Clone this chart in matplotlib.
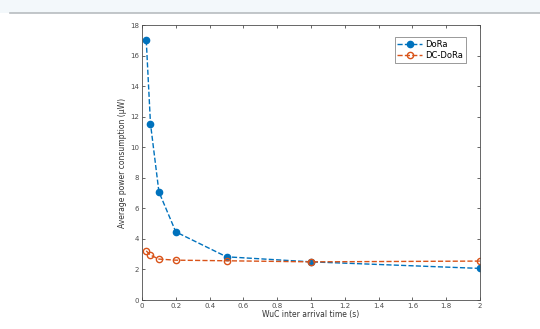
import numpy as np
import matplotlib.pyplot as plt
from matplotlib.lines import Line2D
from matplotlib.patches import Rectangle

# WuC inter arrival time (s)
wuc_time = [0.025, 0.05, 0.1, 0.2, 0.5, 1, 2]
# average power consumption (uW)
dora = [17.0, 11.55, 7.08, 4.46, 2.83, 2.5, 2.07]
dc_dora = [3.22, 2.94, 2.68, 2.61, 2.57, 2.5, 2.55]

xticks = [0, 0.2, 0.4, 0.6, 0.8, 1, 1.2, 1.4, 1.6, 1.8, 2]
xticklabels = ["0", "0.2", "0.4", "0.6", "0.8", "1", "1.2", "1.4", "1.6", "1.8", "2"]
yticks = list(range(0, 19, 2))

colBlue = "#0072BD"
colOrange = "#D95319"
colAxis = "#4d4d4d"

fig = plt.figure(figsize=(5.4, 3.29), dpi=100)
fig.patch.set_facecolor("white")

# faint band and separator line across the top of the page
fig.add_artist(Rectangle((0, 1 - 13 / 329), 1, 13 / 329, transform=fig.transFigure,
                         facecolor="#f3f8fb", edgecolor="none"))
fig.add_artist(Line2D([10 / 540, 1], [1 - 13 / 329, 1 - 13 / 329], transform=fig.transFigure,
                      color="#b8bcc0", lw=1.2))

ax = fig.add_axes([0.263, 0.088, 0.626, 0.836])
ax.plot(wuc_time, dora, "--o", color=colBlue, markerfacecolor=colBlue,
        markersize=4.5, lw=1.0, label="DoRa")
ax.plot(wuc_time, dc_dora, "--o", color=colOrange, markerfacecolor="none",
        markersize=4.5, lw=1.0, label="DC-DoRa")

ax.set_xlim(0, 2)
ax.set_ylim(0, 18)
ax.set_xticks(xticks)
ax.set_xticklabels(xticklabels)
ax.set_yticks(yticks)

ax.tick_params(direction="in", length=2.5, width=0.6, labelsize=5,
               colors=colAxis, top=True, right=True, pad=2)
for s in ax.spines.values():
    s.set_color(colAxis)
    s.set_linewidth(0.6)

ax.set_xlabel("WuC inter arrival time (s)", fontsize=5.5, color="#333333", labelpad=1)
ax.set_ylabel("Average power consumption (\u03bcW)", fontsize=5.5, color="#333333", labelpad=2)

leg = ax.legend(loc="upper right", fontsize=6, frameon=True, fancybox=False,
                edgecolor=colAxis, borderpad=0.35, handlelength=3.0,
                handletextpad=0.3, labelspacing=0.2,
                bbox_to_anchor=(0.97, 0.97))
leg.get_frame().set_linewidth(0.5)

fig.savefig("out.png", dpi=100)
